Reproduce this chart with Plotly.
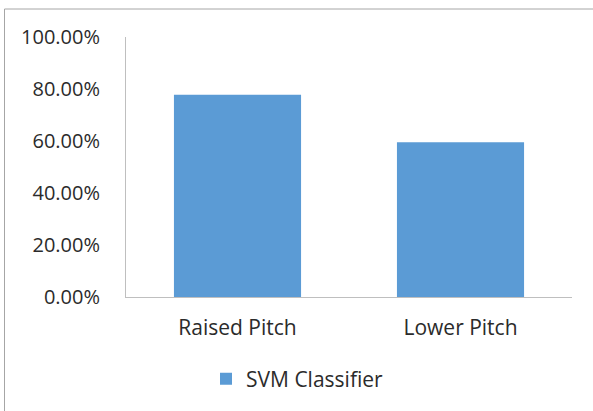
import plotly.graph_objects as go

categories = ["Raised Pitch", "Lower Pitch"]
svm_accuracy = [0.778, 0.595]
y_ticks = [0, 0.2, 0.4, 0.6, 0.8, 1.0]
y_tick_labels = ["0.00%", "20.00%", "40.00%", "60.00%", "80.00%", "100.00%"]

W, H = 593, 411
ML, MR, MT, MB = 126, 21, 37, 114
pw, ph = W - ML - MR, H - MT - MB

family = "Open Sans, Liberation Sans, sans-serif"
text_color = "#2b2b2b"
font = dict(family=family, size=21, color=text_color)
yfont = dict(family=family, size=20, color=text_color)

fig = go.Figure()
fig.add_trace(go.Bar(
    x=categories, y=svm_accuracy, name="SVM Classifier",
    marker=dict(color="#5B9BD5", line=dict(width=0)),
    showlegend=True,
))

fig.update_layout(
    width=W, height=H,
    margin=dict(l=ML, r=MR, t=MT, b=MB, pad=0),
    paper_bgcolor="white", plot_bgcolor="white",
    font=font,
    bargap=0.43,
    showlegend=True,
    legend=dict(
        orientation="h", x=(W / 2 - ML + 1) / pw, xanchor="center",
        y=(ph - (379 - MT)) / ph, yanchor="middle",
        font=font, itemsizing="constant", itemwidth=30,
        bgcolor="rgba(0,0,0,0)",
    ),
    xaxis=dict(
        showgrid=False, showline=True, linecolor="#BFBFBF", linewidth=1,
        ticks="", ticklabelstandoff=12, tickfont=font, fixedrange=True,
    ),
    yaxis=dict(
        range=[0, 1.0], tickvals=y_ticks, ticktext=y_tick_labels,
        showgrid=False, showline=True, linecolor="#BFBFBF", linewidth=1,
        ticks="", ticklabelstandoff=21, tickfont=yfont, zeroline=False,
        fixedrange=True,
    ),
    shapes=[dict(
        type="rect", xref="paper", yref="paper",
        x0=(4.5 - ML) / pw, x1=(W + 5 - ML) / pw,
        y0=-(MB + 5) / ph, y1=(ph + MT - 9) / ph,
        line=dict(color="#A6A6A6", width=1), fillcolor="rgba(0,0,0,0)",
        layer="below",
    )],
)

fig.write_html("out.html")
